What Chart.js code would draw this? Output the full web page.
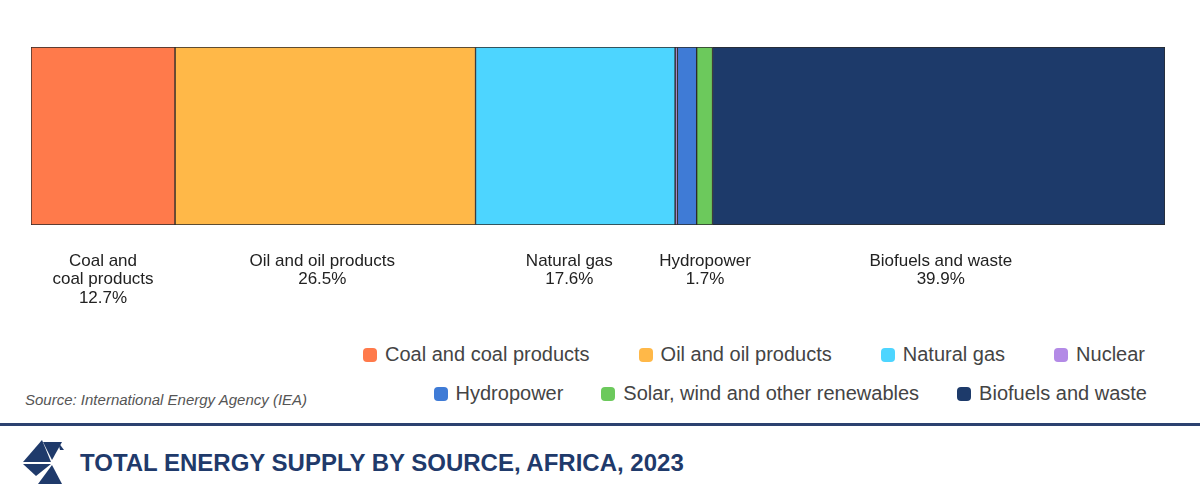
<!DOCTYPE html>
<html>
<head>
<meta charset="utf-8">
<script src="https://cdn.jsdelivr.net/npm/chart.js@4/dist/chart.umd.min.js"></script>
<style>
  html, body { margin: 0; padding: 0; background: #fff; }
  body { width: 1200px; height: 499px; position: relative; overflow: hidden; font-family: "Liberation Sans", Arial, sans-serif; }
  #chart-wrap { position: absolute; left: 0; top: 0; width: 1200px; height: 320px; }
  .legend-row { position: absolute; display: flex; align-items: center; font-size: 20px; color: #444; }
  .legend-item { display: flex; align-items: center; white-space: nowrap; }
  .legend-item i { display: inline-block; width: 14px; height: 14px; border-radius: 4px; margin-right: 8px; }
  #legend-1 { top: 343px; right: 55px; gap: 49px; }
  #legend-2 { top: 382px; right: 53px; gap: 38px; }
  #source { position: absolute; left: 25px; top: 391px; font-size: 15px; font-style: italic; color: #555; }
  #rule { position: absolute; left: 0; top: 423px; width: 1200px; height: 3px; background: #2c4170; }
  #title { position: absolute; left: 80px; top: 449px; font-size: 24px; font-weight: bold; color: #1f3a6b; }
  #logo { position: absolute; left: 22px; top: 440px; }
</style>
</head>
<body>
<div id="chart-wrap"><canvas id="energy-chart"></canvas></div>
<div class="legend-row" id="legend-1"></div>
<div class="legend-row" id="legend-2"></div>
<div id="source">Source: International Energy Agency (IEA)</div>
<div id="rule"></div>
<svg id="logo" width="42" height="46" viewBox="0 0 42 46">
  <polygon points="20,0 1,22 29,22" fill="#1f3a6b"/>
  <polygon points="21,2 40,2 30,20" fill="#1f3a6b"/>
  <polygon points="36,2 42,10 38,10" fill="#1f3a6b"/>
  <polygon points="1,24 29,24 14,36" fill="#1f3a6b"/>
  <polygon points="30,25 16,44 40,44" fill="#1f3a6b"/>
</svg>
<div id="title">TOTAL ENERGY SUPPLY BY SOURCE, AFRICA, 2023</div>

<script>
// shares of total energy supply, percent
const sources = ['Coal and coal products', 'Oil and oil products', 'Natural gas', 'Nuclear', 'Hydropower', 'Solar, wind and other renewables', 'Biofuels and waste'];
const shares = [12.7, 26.5, 17.6, 0.2, 1.7, 1.4, 39.9];
const colors = ['#ff7a4b', '#ffb848', '#4dd5ff', '#b38ae6', '#3f7bd6', '#6cc95c', '#1d3a6a'];
// text under the bar (empty = no label)
const barLabels = [['Coal and', 'coal products'], ['Oil and oil products'], ['Natural gas'], [], ['Hydropower'], [], ['Biofuels and waste']];
const labelShift = [0, -3, -6, 0, 18, 0, 2];

// legend rows
const legendRows = [[0, 1, 2, 3], [4, 5, 6]];
legendRows.forEach((row, r) => {
  const box = document.getElementById('legend-' + (r + 1));
  row.forEach(i => {
    const item = document.createElement('div');
    item.className = 'legend-item';
    item.innerHTML = '<i style="background:' + colors[i] + '"></i>' + sources[i];
    box.appendChild(item);
  });
});

const segmentLabels = {
  id: 'segmentLabels',
  afterDatasetsDraw(chart) {
    const { ctx, scales: { x }, chartArea } = chart;
    ctx.save();
    ctx.font = '17px "Liberation Sans", Arial, sans-serif';
    ctx.fillStyle = '#222';
    ctx.textAlign = 'center';
    ctx.textBaseline = 'middle';
    let start = 0;
    shares.forEach((v, i) => {
      const end = start + v;
      if (barLabels[i].length) {
        const cx = (x.getPixelForValue(start) + x.getPixelForValue(end)) / 2 + labelShift[i];
        const lines = barLabels[i].concat([v.toFixed(1) + '%']);
        lines.forEach((t, k) => ctx.fillText(t, cx, chartArea.bottom + 36 + k * 18.5));
      }
      start = end;
    });
    ctx.restore();
  }
};

new Chart(document.getElementById('energy-chart'), {
  type: 'bar',
  data: {
    labels: ['Africa'],
    datasets: sources.map((s, i) => ({
      label: s,
      data: [shares[i]],
      backgroundColor: colors[i],
      borderColor: '#2a2a2a',
      borderWidth: 1,
      borderSkipped: false,
      barPercentage: 1,
      categoryPercentage: 1
    }))
  },
  options: {
    indexAxis: 'y',
    responsive: true,
    maintainAspectRatio: false,
    animation: false,
    layout: { padding: { left: 31, right: 35, top: 47, bottom: 95 } },
    plugins: { legend: { display: false }, tooltip: { enabled: false } },
    scales: {
      x: { stacked: true, min: 0, max: 100, display: false },
      y: { stacked: true, display: false }
    }
  },
  plugins: [segmentLabels]
});
</script>
</body>
</html>
